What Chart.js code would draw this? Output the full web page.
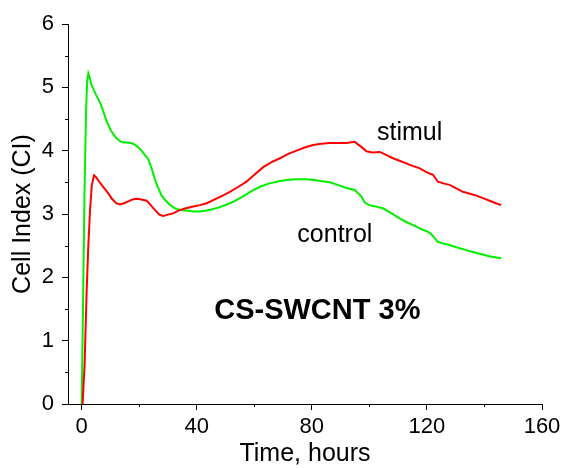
<!DOCTYPE html>
<html>
<head>
<meta charset="utf-8">
<script src="https://cdn.jsdelivr.net/npm/chart.js@4.4.1/dist/chart.umd.min.js"></script>
<style>
  body { margin: 0; background: #fff; }
  #wrap { width: 566px; height: 468px; }
</style>
</head>
<body>
<div id="wrap"><canvas id="chartjs1" width="566" height="468"></canvas></div>
<script>
// control curve (green)
const ctrlTime = [0, 0.5, 1.0, 1.5, 1.9, 2.3, 2.8, 3.3, 4, 5, 6.4, 7.5, 8.7, 10, 11, 12, 13.3, 14.5, 16.2, 17.9,
  19.5, 21, 22, 23.1, 24.3, 25.5, 26.5, 27.8, 29, 30.5, 32, 33, 35, 37, 39, 41, 43, 45, 47.5, 50.4,
  53, 56.1, 59, 62, 65, 68.9, 72, 74.7, 77.5, 80.4, 83, 86.2, 89, 92, 94.9, 96, 97.2, 98.4, 100, 102,
  104.7, 107, 110.5, 113, 116.3, 118, 120.3, 121.5, 122.5, 123.8, 126, 127.9, 130, 133.7, 136, 139.4, 142, 145.8];
const ctrlCI = [0, 1.7, 3.4, 4.6, 5.1, 5.22, 5.15, 5.05, 4.98, 4.88, 4.76, 4.62, 4.46, 4.33, 4.26, 4.2, 4.15, 4.13, 4.13, 4.11,
  4.06, 3.99, 3.93, 3.87, 3.72, 3.54, 3.42, 3.29, 3.22, 3.15, 3.10, 3.08, 3.06, 3.05, 3.04, 3.04, 3.05, 3.07, 3.10, 3.15,
  3.20, 3.28, 3.36, 3.43, 3.48, 3.52, 3.54, 3.55, 3.55, 3.54, 3.52, 3.50, 3.46, 3.41, 3.38, 3.33, 3.28, 3.18, 3.14, 3.12,
  3.09, 3.03, 2.93, 2.87, 2.80, 2.76, 2.72, 2.68, 2.63, 2.56, 2.53, 2.51, 2.48, 2.43, 2.40, 2.36, 2.33, 2.30];

// stimulated curve (red)
const stimTime = [0.3, 1.0, 1.7, 2.3, 2.9, 3.5, 4.3, 5, 6.4, 7.8, 9.2, 10.5, 12, 13.3, 14.7, 16.2, 17.7, 19.1, 20.8, 22.6,
  24, 25.5, 27, 28.3, 30, 31.8, 33.5, 35.3, 38, 41.1, 43.5, 45.7, 48.5, 51.5, 54.5, 57.3, 60, 63.1, 66, 68.9,
  71.8, 74.7, 77.5, 80.4, 83.3, 86.2, 89, 92, 94.9, 96, 97.2, 99, 101, 103.6, 106, 108.2, 110.5, 112.8, 115, 117.5,
  119.5, 120.9, 122.1, 123.8, 126, 127.9, 130, 132.5, 135, 137.2, 139.5, 141.8, 144, 145.8];
const stimCI = [0, 0.6, 1.75, 2.5, 3.06, 3.45, 3.61, 3.58, 3.49, 3.41, 3.33, 3.24, 3.17, 3.15, 3.17, 3.20, 3.23, 3.24, 3.23, 3.21,
  3.14, 3.06, 2.99, 2.97, 2.99, 3.01, 3.05, 3.08, 3.11, 3.14, 3.17, 3.22, 3.28, 3.35, 3.43, 3.51, 3.62, 3.74, 3.82, 3.88,
  3.95, 4.00, 4.05, 4.09, 4.11, 4.12, 4.12, 4.12, 4.14, 4.10, 4.06, 3.99, 3.97, 3.98, 3.93, 3.88, 3.84, 3.80, 3.76, 3.72,
  3.67, 3.64, 3.62, 3.51, 3.48, 3.46, 3.41, 3.35, 3.32, 3.29, 3.25, 3.21, 3.17, 3.14];

const xTicks = [0, 40, 80, 120, 160];
const xMinor = [20, 60, 100, 140];
const yTicks = [0, 1, 2, 3, 4, 5, 6];
const yMinor = [0.5, 1.5, 2.5, 3.5, 4.5, 5.5];

// text inside the plot, placed in data units
const notes = [
  { text: 'stimul', t: 114, ci: 4.17, bold: false, size: 25 },
  { text: 'control', t: 88, ci: 2.56, bold: false, size: 25 },
  { text: 'CS-SWCNT 3%', t: 81.9, ci: 1.35, bold: true, size: 29 }
];

const FONT = "'Liberation Sans', Arial, sans-serif";

function pts(xs, ys) {
  return xs.map(function (x, i) { return { x: x, y: ys[i] }; });
}

const extras = {
  id: 'extras',
  afterDraw: function (chart) {
    var ctx = chart.ctx;
    var xs = chart.scales.x, ys = chart.scales.y;
    var area = chart.chartArea;
    ctx.save();
    ctx.strokeStyle = '#000';
    ctx.lineWidth = 1;
    ctx.beginPath();
    yMinor.forEach(function (v) {
      var py = Math.round(ys.getPixelForValue(v)) + 0.5;
      ctx.moveTo(area.left - 3, py);
      ctx.lineTo(area.left, py);
    });
    xMinor.forEach(function (v) {
      var px = Math.round(xs.getPixelForValue(v)) + 0.5;
      ctx.moveTo(px, area.bottom);
      ctx.lineTo(px, area.bottom + 3);
    });
    ctx.stroke();
    ctx.fillStyle = '#000';
    ctx.textAlign = 'center';
    ctx.textBaseline = 'alphabetic';
    notes.forEach(function (n) {
      ctx.font = (n.bold ? 'bold ' : '') + n.size + 'px ' + FONT;
      ctx.fillText(n.text, xs.getPixelForValue(n.t), ys.getPixelForValue(n.ci));
    });
    ctx.restore();
  }
};

var myChart = new Chart(document.getElementById('chartjs1'), {
  type: 'line',
  data: {
    datasets: [{
      label: 'stimul',
      data: pts(stimTime, stimCI),
      borderColor: 'rgb(255,0,0)',
      borderWidth: 2,
      pointRadius: 0,
      tension: 0
    }, {
      label: 'control',
      data: pts(ctrlTime, ctrlCI),
      borderColor: 'rgb(0,240,0)',
      borderWidth: 2,
      pointRadius: 0,
      tension: 0
    }]
  },
  options: {
    responsive: false,
    animation: false,
    events: [],
    layout: { padding: { top: 24, right: 24, left: 0, bottom: 0 } },
    plugins: { legend: { display: false }, tooltip: { enabled: false } },
    scales: {
      x: {
        type: 'linear',
        min: -4.76,
        max: 160,
        afterBuildTicks: function (s) { s.ticks = xTicks.map(function (v) { return { value: v }; }); },
        afterFit: function (s) { s.height = 64; },
        border: { color: '#000', width: 1 },
        grid: { drawOnChartArea: false, drawTicks: true, tickLength: 6, color: '#000' },
        ticks: { color: '#000', padding: 4, maxRotation: 0, font: { family: FONT, size: 22 } },
        title: { display: true, text: 'Time, hours', color: '#000', padding: { top: 0, bottom: 1 },
          font: { family: FONT, size: 25, lineHeight: 1 } }
      },
      y: {
        min: 0,
        max: 6,
        afterBuildTicks: function (s) { s.ticks = yTicks.map(function (v) { return { value: v }; }); },
        afterFit: function (s) { s.width = 68; },
        border: { color: '#000', width: 1 },
        grid: { drawOnChartArea: false, drawTicks: true, tickLength: 6, color: '#000' },
        ticks: { color: '#000', padding: 8, font: { family: FONT, size: 22 } },
        title: { display: true, text: 'Cell Index (CI)', color: '#000', padding: { top: 11, bottom: 0 },
          font: { family: FONT, size: 25, lineHeight: 1 } }
      }
    }
  },
  plugins: [extras]
});
</script>
</body>
</html>
